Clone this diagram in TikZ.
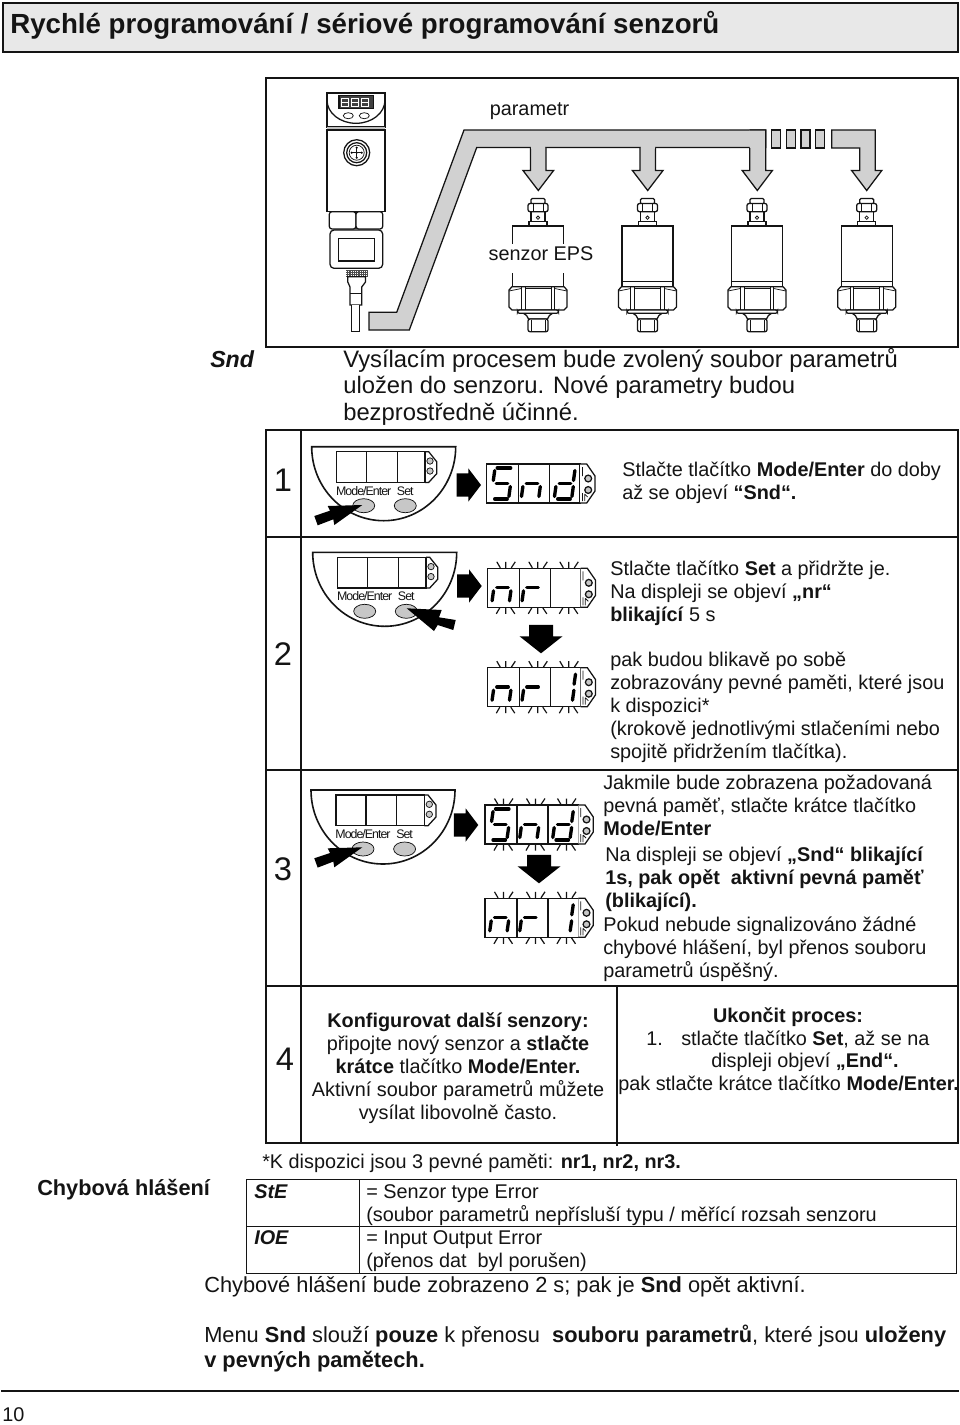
\documentclass[tikz,border=0pt]{standalone}
\usepackage{fontspec}
\setmainfont{Liberation Sans}
\definecolor{ink}{gray}{0.08}
\definecolor{pipe}{gray}{0.82}
\definecolor{btn}{gray}{0.78}
\newcount\tc
\newcommand{\T}[4][txt]{\global\advance\tc by 1 \node[#1,anchor=base west] (t\the\tc) at (#2,#3+6.5) {#4};}
\newcommand{\C}[4][txt]{\global\advance\tc by 1 \node[#1,anchor=base] (t\the\tc) at (#2,#3+6.5) {#4};}
\tikzset{
 txt/.style={inner sep=0,text=ink,font=\fontsize{14.88}{16}\selectfont},
 big/.style={inner sep=0,text=ink,font=\fontsize{17.85}{20}\selectfont},
 low/.style={inner sep=0,text=ink,font=\fontsize{16.36}{18}\selectfont},
 num/.style={inner sep=0,text=ink,font=\fontsize{24.5}{30}\selectfont},
 keyl/.style={inner sep=0,text=ink,font=\fontsize{9.3}{10}\selectfont},
 frameln/.style={draw=ink,line width=1.5pt},
 thin1/.style={draw=ink,line width=.95pt},
 hair/.style={draw=ink,line width=.55pt},
 segln/.style={draw=black,line width=2.5pt,line cap=round},
}
\newcommand{\sA}{\draw[segln] (10.5,3.9)--(24,3.9);}
\newcommand{\sF}{\draw[segln] (8,6.5)--(6.6,16.5);}
\newcommand{\sB}{\draw[segln] (25.2,6.5)--(23.8,16.5);}
\newcommand{\sG}{\draw[segln] (9.5,19.3)--(21,19.3);}
\newcommand{\sE}{\draw[segln] (6.2,22.5)--(4.8,32.5);}
\newcommand{\sC}{\draw[segln] (23.6,22.5)--(22.2,32.5);}
\newcommand{\sD}{\draw[segln] (8,35)--(20.5,35);}
\newcommand{\dispframe}[2]{\begin{scope}[shift={(#1,#2)}]
 \draw[thin1,fill=white] (0,0) rectangle (93.3,39);
 \draw[thin1,fill=white] (93.3,0)--(100,0)--(108.3,12)--(108.3,27)--(100,39)--(93.3,39);
 \draw[thin1] (32,0)--(32,39) (63,0)--(63,39);
 \draw[thin1,fill=btn] (101.5,14.5) circle (3.4) (101.5,26) circle (3.4);
 \draw[hair] (95.8,3)--(95.8,12) (95.8,29)--(95.8,37) (98,30)--(98,37) (98,30)--(101,33);
\end{scope}}
\newcommand{\blink}[2]{\begin{scope}[shift={(#1,#2)}]
 \foreach \cx in {0,32,63}{
  \draw[draw=ink,line width=.9pt] (\cx+9.5,-6.5)--(\cx+13,-.5) (\cx+18.5,-6.5)--(\cx+18.5,-.5) (\cx+28,-6.5)--(\cx+24,-.5);
  \draw[draw=ink,line width=.9pt] (\cx+9,45.5)--(\cx+12.5,39.5) (\cx+18.5,45.5)--(\cx+18.5,39.5) (\cx+27.5,45.5)--(\cx+23.5,39.5);
 }
\end{scope}}
\newcommand{\dig}[4]{\begin{scope}[shift={(#1+#3,#2)}]#4\end{scope}}
\newcommand{\keypad}[2]{\begin{scope}[shift={(#1,#2)}]
 \draw[draw=ink,line width=1.2pt,fill=white] (0,0) .. controls (0,40.9) and (32.2,74) .. (72,74) .. controls (111.8,74) and (144,40.9) .. (144,0) -- cycle;
 \draw[thin1] (25,5) rectangle (113.3,35.7);
 \draw[thin1] (55,5)--(55,35.7) (85.7,5)--(85.7,35.7);
 \draw[thin1] (113.3,5)--(117,5)--(125,15)--(125,27)--(117,35.7)--(113.3,35.7);
 \draw[hair,fill=btn] (118.3,14.3) circle (3.2) (118.3,24.3) circle (3.2);
 \global\advance\tc by 1 \node[keyl,anchor=base] (t\the\tc) at (52,48.5) {\addfontfeature{LetterSpace=-8}Mode/Enter};
 \global\advance\tc by 1 \node[keyl,anchor=base] (t\the\tc) at (93.6,48.5) {\addfontfeature{LetterSpace=-8}Set};
 \draw[hair,fill=btn] (52,59) ellipse (11 and 7) (93.6,59) ellipse (11 and 7);
\end{scope}}
\newcommand{\hand}[2]{\begin{scope}[shift={(#1,#2)}]
 \fill[black] (48,0)--(13.4,1)--(15.7,5.7)--(0,11)--(3.4,20.3)--(19,14.3)--(20,20)--cycle;
\end{scope}}
\newcommand{\rarrow}[2]{\fill[black] (#1-24.5,#2-11.7)--(#1-12.7,#2-11.7)--(#1-12.7,#2-16.7)--(#1,#2)--(#1-12.7,#2+16.7)--(#1-12.7,#2+11.7)--(#1-24.5,#2+11.7)--cycle;}
\newcommand{\darrow}[2]{\fill[black] (#1-12,#2-28.5)--(#1+12,#2-28.5)--(#1+12,#2-17)--(#1+21.5,#2-17)--(#1,#2)--(#1-21.5,#2-17)--(#1-12,#2-17)--cycle;}
\newcommand{\sensor}[1]{\begin{scope}[shift={(#1,0)}]
 \draw[thin1,fill=white] (-25.5,226) rectangle (25.5,281.7);
 \draw[thin1,fill=white] (-25.5,281.7) rectangle (25.5,286.7);
 \draw[thin1,fill=white,rounded corners=1pt] (-7,198.5) rectangle (7,204);
 \draw[thin1,fill=white] (-7,211.5) rectangle (7,222);
 \draw[thin1,fill=white,rounded corners=1.5pt] (-10,203.5) rectangle (10,211.7);
 \draw[hair] (-5,204)--(-5,211.5) (5,204)--(5,211.5);
 \draw[thin1,fill=white] (-9,221.7) rectangle (9,226);
 \draw[hair] (0,217.7) circle (1.7);
 \draw[thin1,fill=white] (-26,286.7)--(26,286.7)--(29,290)--(29,307)--(26,310)--(-26,310)--(-29,307)--(-29,290)--cycle;
 \draw[hair] (-16.7,287)--(-16.7,310) (-13,287)--(-13,310) (16.7,287)--(16.7,310) (13,287)--(13,310);
 \draw[hair] (-29,291)--(-16.7,288.5) (29,291)--(16.7,288.5) (-13,288.5)--(13,288.5);
 \draw[thin1,fill=white] (-15,313)..controls (-12,315) and (-10,316) .. (-9.5,319) -- (9.5,319) .. controls (10,316) and (12,315) .. (15,313);
 \draw[thin1,fill=white,rounded corners=1.5pt] (-20.5,310) rectangle (20.5,313.3);
 \draw[thin1,fill=white,rounded corners=1.5pt] (-10,319) rectangle (10,331.7);
 \draw[hair] (-7,320)--(-7,331) (7,320)--(7,331);
\end{scope}}
\begin{document}
\begin{tikzpicture}[x=.75pt,y=-.75pt,line join=miter]
\useasboundingbox (0,0) rectangle (960,1425);
\fill[white] (0,0) rectangle (960,1425);
% title
\draw[frameln,fill=black!9] (2.5,3) rectangle (957.5,52);
\T[inner sep=0,text=ink,font=\fontsize{20.76}{22}\selectfont\bfseries]{10}{27}{Rychlé programování / sériové programování senzorů}
% top frame
\draw[frameln] (265.5,78) rectangle (958,346.5);
% left sensor
\begin{scope}
 \draw[thin1,fill=white] (327,93) rectangle (385,127);
 \draw[thin1] (327,100) .. controls (327,113) and (340,123.3) .. (356,123.3) .. controls (372,123.3) and (385,113) .. (385,100);
 \draw[thin1,fill=black!75] (339,95.7) rectangle (373.3,108.3);
 \foreach \q in {341.5,351.5,361.5}{\draw[draw=white,line width=.6pt] (\q,98) rectangle (\q+7,106) (\q,102)--(\q+7,102);}
 \draw[hair] (348.3,115.7) ellipse (5 and 3) (364.3,115.7) ellipse (5 and 3);
 \fill[black!25] (327,127) rectangle (385,130);
 \draw[thin1,fill=white] (327,130) rectangle (385,211.7);
 \draw[thin1] (356.7,152.7) circle (13) (356.7,152.7) circle (10);
 \draw[hair] (356.7,152.7) circle (7.5);
 \fill[black] (356.7,147.7) circle (1.2) (356.7,157.7) circle (1.2) (351.7,152.7) circle (1.2) (361.7,152.7) circle (1.2) (356.7,152.7) circle (1.2);
 \draw[hair] (352,152.7)--(361.5,152.7) (356.7,148)--(356.7,157.5);
 \draw[thin1,fill=white,rounded corners=2pt] (329.3,211.7) rectangle (356,229);
 \draw[thin1,fill=white,rounded corners=2pt] (356,211.7) rectangle (382.7,229);
 \draw[thin1,fill=white,rounded corners=3pt] (330,230) rectangle (382.7,268.3);
 \draw[thin1] (338.3,238.3) rectangle (374.3,261);
 \fill[black!70] (345.7,270) rectangle (367.7,276.7);
 \draw[draw=white,line width=.7pt,dash pattern=on .8pt off .9pt] (346,271.7)--(367.5,271.7) (346,273.5)--(367.5,273.5) (346,275.3)--(367.5,275.3);
 \draw[thin1,fill=white] (347.8,276.7)--(365.5,276.7)--(365.5,282)--(361.7,287)--(361.7,305)--(350,305)--(350,287)--(347.8,282)--cycle;
 \draw[thin1,fill=white] (351.5,305)--(351.5,331.5)--(359.8,331.5)--(359.8,305);
 \draw[hair] (350,293)--(361.7,293);
\end{scope}
% pipe
\draw[thin1,fill=pipe] (369,312.3)--(396.7,312.3)--(464,130)--(765.7,130)--(765.7,147.5)--(476.7,147.5)--(409.3,330)--(369,330)--cycle;
\draw[thin1,fill=pipe] (749.7,147.5)--(749.7,170.5)--(742.2,170.5)--(757.3,190.5)--(772.4,170.5)--(765.7,170.5)--(765.7,130)--(749.7,130);
\fill[pipe] (750.3,130.7) rectangle (765,148.2);
\draw[thin1,fill=pipe] (530.5,147.5)--(530.5,170.5)--(523,170.5)--(538.3,190.5)--(553.6,170.5)--(546,170.5)--(546,147.5);
\fill[pipe] (531.1,146) rectangle (545.4,149);
\draw[thin1,fill=pipe] (640,147.5)--(640,170.5)--(632.4,170.5)--(647.7,190.5)--(663,170.5)--(655.5,170.5)--(655.5,147.5);
\fill[pipe] (640.6,146) rectangle (654.9,149);
\foreach \q in {771.7,786.3,801,815.5}{\draw[thin1,fill=pipe] (\q,130) rectangle (\q+9,148);}
\draw[thin1,fill=pipe] (831.7,130)--(875.3,130)--(875.3,170.5)--(881.8,170.5)--(866.7,190.5)--(851.6,170.5)--(859.7,170.5)--(859.7,148)--(831.7,148)--cycle;
% sensors
\sensor{538}\sensor{647.5}\sensor{757}\sensor{866.7}
\fill[white] (489,243.5) rectangle (593,265);
\fill[white] (511,243.5) rectangle (565,285.8);
\draw[thin1] (512.5,273)--(512.5,286.7) (563.5,273)--(563.5,286.7);
\C{529.5}{108.5}{parametr}
\C{541}{254}{senzor EPS}
% Snd
\T[big,font=\fontsize{17.4}{20}\selectfont\bfseries\itshape]{210}{360.5}{Snd}
\T[big]{343}{360.5}{Vysílacím procesem bude zvolený soubor parametrů}
\T[big]{343}{387}{uložen do senzoru. Nové parametry budou}
\T[big]{343}{413.5}{bezprostředně účinné.}
% table
\draw[frameln] (266,430) rectangle (958,1143);
\draw[frameln] (301,430)--(301,1143);
\draw[frameln] (266,537)--(958,537) (266,770)--(958,770) (266,986)--(958,986);
\draw[draw=ink,line width=1.1pt] (617,986)--(617,1146);
\C[num]{283}{485}{1}\C[num]{283}{658.5}{2}\C[num]{283}{874}{3}\C[num]{285}{1063.5}{4}
% row 1
\keypad{311.7}{446.7}\hand{314.3}{505}
\rarrow{481}{485}
\dispframe{486.7}{464}
\dig{486.7}{464}{0}{\sA\sF\sG\sC\sD}\dig{486.7}{464}{30}{\sG\sE\sC}\dig{486.7}{464}{63}{\sB\sC\sD\sE\sG}
\T{622}{470}{Stlačte tlačítko \textbf{Mode/Enter} do doby}
\T{622}{493}{až se objeví \textbf{“Snd“.}}
% row 2
\keypad{312.7}{552.3}
\fill[black] (406.7,608.3)--(441.7,610)--(439,617.3)--(455.7,620)--(453.3,630)--(437.7,625)--(434,631)--cycle;
\rarrow{481.7}{586}
\dispframe{487.3}{568.3}\blink{487.3}{568.3}
\dig{487.3}{568.3}{0}{\sG\sE\sC}\dig{487.3}{568.3}{30}{\sE\sG}
\darrow{541}{653.3}
\dispframe{487.3}{667.7}\blink{487.3}{667.7}
\dig{487.3}{667.7}{0}{\sG\sE\sC}\dig{487.3}{667.7}{30}{\sE\sG}\dig{487.3}{667.7}{63}{\sB\sC}
\T{610}{569}{Stlačte tlačítko \textbf{Set} a přidržte je.}
\T{610}{592}{Na displeji se objeví \textbf{„nr“}}
\T{610}{615}{\textbf{blikající} 5 s}
\T{610}{660}{pak budou blikavě po sobě}
\T{610}{683}{zobrazovány pevné paměti, které jsou}
\T{610}{706}{k dispozici*}
\T{610}{729}{(krokově jednotlivými stlačeními nebo}
\T{610}{752}{spojitě přidržením tlačítka).}
% row 3
\keypad{311}{790}\hand{314.3}{847.3}
\rarrow{478.3}{825}
\dispframe{485}{805}\blink{485}{805}
\dig{485}{805}{0}{\sA\sF\sG\sC\sD}\dig{485}{805}{30}{\sG\sE\sC}\dig{485}{805}{63}{\sB\sC\sD\sE\sG}
\darrow{539}{883.3}
\dispframe{485}{898.3}\blink{485}{898.3}
\dig{485}{898.3}{0}{\sG\sE\sC}\dig{485}{898.3}{30}{\sE\sG}\dig{485}{898.3}{63}{\sB\sC}
\T{603}{783}{Jakmile bude zobrazena požadovaná}
\T{603}{806}{pevná paměť, stlačte krátce tlačítko}
\T{603}{829}{\textbf{Mode/Enter}}
\T{605}{855}{Na displeji se objeví \textbf{„Snd“ blikající}}
\T{605}{878}{\textbf{1s, pak opět\ \ aktivní pevná paměť}}
\T{605}{901}{\textbf{(blikající).}}
\T{603}{925}{Pokud nebude signalizováno žádné}
\T{603}{948}{chybové hlášení, byl přenos souboru}
\T{603}{971}{parametrů úspěšný.}
% row 4
\C{458}{1021}{\textbf{Konfigurovat další senzory:}}
\C{458}{1044}{připojte nový senzor a \textbf{stlačte}}
\C{458}{1067}{\textbf{krátce} tlačítko \textbf{Mode/Enter.}}
\C{458}{1090}{Aktivní soubor parametrů můžete}
\C{458}{1113}{vysílat libovolně často.}
\C{788}{1016}{\textbf{Ukončit proces:}}
\T{646}{1039}{1.}
\T{681}{1039}{stlačte tlačítko \textbf{Set}, až se na}
\C{805}{1061}{displeji objeví \textbf{„End“.}}
\T{618}{1084}{pak stlačte krátce tlačítko \textbf{Mode/Enter.}}
% below
\T{262}{1162}{*K dispozici jsou 3 pevné paměti: \textbf{nr1, nr2, nr3.}}
\T[inner sep=0,text=ink,font=\fontsize{16.3}{18}\selectfont\bfseries]{37}{1189}{Chybová hlášení}
\draw[draw=ink,line width=.75pt] (246,1179.5) rectangle (956,1273);
\draw[draw=ink,line width=.75pt] (246,1226)--(956,1226) (359,1179.5)--(359,1273);
\T{254}{1192}{\textbf{\itshape StE}}
\T{254}{1238}{\textbf{\itshape IOE}}
\T{366}{1192}{= Senzor type Error}
\T{366}{1215}{(soubor parametrů nepřísluší typu / měřící rozsah senzoru}
\T{366}{1238}{= Input Output Error}
\T{366}{1261}{(přenos dat\ \ byl porušen)}
\T[low]{204}{1286}{Chybové hlášení bude zobrazeno 2 s; pak je \textbf{Snd} opět aktivní.}
\T[low]{204}{1336}{Menu \textbf{Snd} slouží \textbf{pouze} k přenosu\ \ \textbf{souboru parametrů}, které jsou \textbf{uloženy}}
\T[low]{204}{1361}{\textbf{v pevných pamětech.}}
\draw[draw=ink,line width=1.1pt] (1,1391)--(959,1391);
\T{2}{1415}{10}
\end{tikzpicture}
\end{document}
